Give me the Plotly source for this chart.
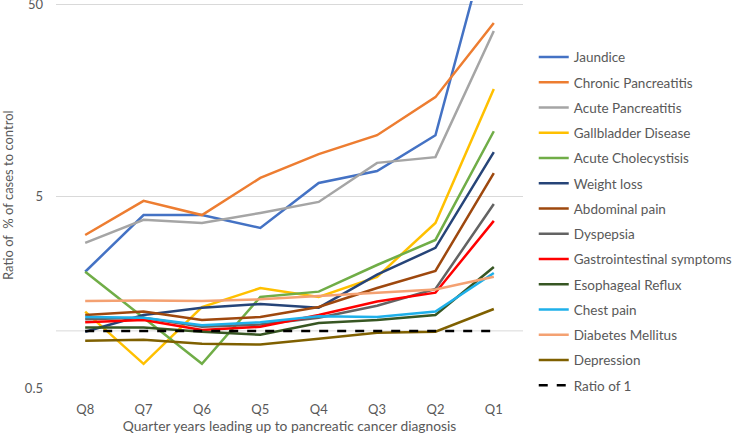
import plotly.graph_objects as go
import math

quarters = ["Q8", "Q7", "Q6", "Q5", "Q4", "Q3", "Q2", "Q1"]

jaundice = [2.03, 4.0, 4.0, 3.43, 5.87, 6.78, 10.4, 140]
chronic_pancreatitis = [3.15, 4.74, 4.0, 6.24, 8.3, 10.4, 16.4, 39.8]
acute_pancreatitis = [2.87, 3.78, 3.64, 4.1, 4.68, 7.47, 8.0, 36.2]
gallbladder_disease = [1.26, 0.674, 1.33, 1.67, 1.5, 1.91, 3.64, 18.1]
acute_cholecystitis = [2.03, 1.17, 0.674, 1.5, 1.6, 2.2, 2.97, 10.9]
weight_loss = [0.99, 1.21, 1.32, 1.38, 1.32, 1.96, 2.7, 8.5]
abdominal_pain = [1.21, 1.26, 1.14, 1.18, 1.33, 1.67, 2.05, 6.6]
dyspepsia = [1.15, 1.17, 1.05, 1.08, 1.17, 1.35, 1.65, 4.57]
gi_symptoms = [1.11, 1.14, 1.01, 1.05, 1.21, 1.42, 1.58, 3.73]
esophageal_reflux = [1.04, 1.04, 0.99, 0.955, 1.1, 1.14, 1.21, 2.15]
chest_pain = [1.18, 1.17, 1.07, 1.11, 1.19, 1.18, 1.26, 2.0]
diabetes_mellitus = [1.43, 1.44, 1.43, 1.46, 1.52, 1.58, 1.64, 1.91]
depression = [0.89, 0.90, 0.857, 0.85, 0.91, 0.977, 0.99, 1.3]
ratio_of_1 = [1, 1, 1, 1, 1, 1, 1, 1]

series_names = ["Jaundice", "Chronic Pancreatitis", "Acute Pancreatitis", "Gallbladder Disease",
                "Acute Cholecystisis", "Weight loss", "Abdominal pain", "Dyspepsia",
                "Gastrointestinal symptoms", "Esophageal Reflux", "Chest pain",
                "Diabetes Mellitus", "Depression", "Ratio of 1"]
series_values = [jaundice, chronic_pancreatitis, acute_pancreatitis, gallbladder_disease,
                 acute_cholecystitis, weight_loss, abdominal_pain, dyspepsia, gi_symptoms,
                 esophageal_reflux, chest_pain, diabetes_mellitus, depression, ratio_of_1]
colors = ["#4472C4", "#ED7D31", "#A5A5A5", "#FFC000", "#70AD47", "#264478", "#9E480E",
          "#636363", "#FF0000", "#375623", "#1FB0EA", "#F4A172", "#7F6000", "#000000"]

y_ticks = [0.5, 5, 50]
y_tick_labels = ["0.5", "5", "50"]

FONT = "Lato"
TXT = "#595959"

fig = go.Figure()

# category axis line crossing at 1, with ticks at category boundaries
fig.add_shape(type="line", xref="x", yref="y", x0=-0.5, x1=len(quarters) - 0.5, y0=1, y1=1,
              line=dict(color="#D9D9D9", width=1), layer="below")
for i in range(len(quarters) + 1):
    fig.add_shape(type="line", xref="x", yref="y", ysizemode="pixel", yanchor=1,
                  x0=i - 0.5, x1=i - 0.5, y0=0, y1=-5,
                  line=dict(color="#D9D9D9", width=1), layer="below")

for name, vals, col in zip(series_names, series_values, colors):
    dash = "dash" if name == "Ratio of 1" else "solid"
    fig.add_trace(go.Scatter(
        x=quarters, y=vals, name=name, mode="lines",
        line=dict(color=col, width=2.5, dash=dash),
        legendgroup=name,
    ))

fig.update_layout(
    width=740, height=434,
    margin=dict(l=56, r=217, t=1, b=45, autoexpand=False),
    paper_bgcolor="white", plot_bgcolor="white",
    font=dict(family=FONT, size=13, color=TXT),
    showlegend=True,
    legend=dict(x=1.023, y=0.895, xanchor="left", yanchor="top",
                traceorder="grouped", tracegroupgap=4.7,
                font=dict(family=FONT, size=13.5, color=TXT),
                bgcolor="rgba(0,0,0,0)"),
    xaxis=dict(type="category", categoryorder="array", categoryarray=quarters,
               range=[-0.5, len(quarters) - 0.5], showgrid=False, showline=False,
               zeroline=False, ticks="", ticklabelstandoff=11,
               tickfont=dict(family=FONT, size=13, color=TXT),
               title=dict(text="Quarter years leading up to pancreatic cancer diagnosis",
                          font=dict(family=FONT, size=13.8, color=TXT), standoff=6)),
    yaxis=dict(type="log", range=[math.log10(0.5) - 0.001, math.log10(50) + 0.0156],
               tickvals=y_ticks, ticktext=y_tick_labels,
               showgrid=True, gridcolor="#D9D9D9", gridwidth=1,
               showline=False, zeroline=False, ticks="", ticklabelstandoff=12,
               ticklabeloverflow="allow",
               tickfont=dict(family=FONT, size=13, color=TXT)),
    annotations=[dict(text="Ratio of  % of cases to control", xref="paper", yref="paper",
                      x=0, y=0.5, xanchor="center", yanchor="middle",
                      xshift=-48, textangle=-90, showarrow=False,
                      font=dict(family=FONT, size=13, color=TXT))],
)

fig.write_html("out.html", config={"displayModeBar": False},
               post_script="document.body.style.margin='0';document.body.style.overflow='hidden';")
